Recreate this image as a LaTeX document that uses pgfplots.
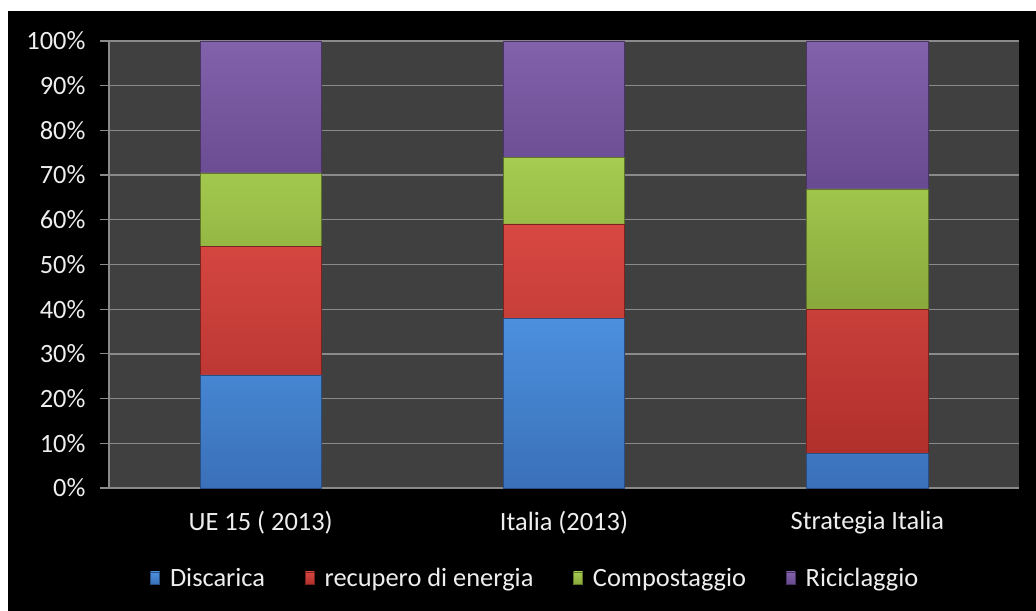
\documentclass[border=0pt]{standalone}
\usepackage{fontspec}
\setmainfont{Carlito}
\usepackage{pgfplots}
\pgfplotsset{compat=1.18}
\definecolor{plotbg}{HTML}{404040}
\definecolor{gridc}{HTML}{8A8A8A}
\definecolor{txt}{HTML}{EEEEEE}
\definecolor{blueT}{HTML}{4C90DE}
\definecolor{blueB}{HTML}{3A70B8}
\definecolor{redT}{HTML}{D84842}
\definecolor{redB}{HTML}{B0302C}
\definecolor{greenT}{HTML}{A6CC50}
\definecolor{greenB}{HTML}{88A83C}
\definecolor{purpT}{HTML}{8262AA}
\definecolor{purpB}{HTML}{684A90}
\begin{document}
\begin{tikzpicture}[x=1bp,y=1bp]
\path[use as bounding box] (0,0) rectangle (1036,611);
\fill[white] (0,0) rectangle (1036,611);
\fill[black] (8,0) rectangle (1036,600);
\begin{axis}[
  at={(109bp,123bp)}, anchor=south west,
  scale only axis, width=910bp, height=447bp,
  ybar stacked, bar width=0.4,
  xmin=-0.5, xmax=2.5, ymin=0, ymax=100,
  axis background/.style={fill=plotbg},
  axis lines*=left,
  axis line style={gridc, line width=1.2bp},
  ymajorgrids, grid style={gridc, line width=1.3bp},
  ytick={0,10,...,100},
  yticklabel={\pgfmathprintnumber{\tick}\%},
  yticklabel style={xshift=-11bp},
  xtick={0,1,2},
  xticklabels={UE 15 ( 2013), Italia (2013), Strategia Italia},
  x tick style={draw=none},
  extra x ticks={-0.5,0.5,1.5,2.5},
  extra x tick labels={},
  extra x tick style={tick style={draw=gridc, line width=1.2bp}, major tick length=7bp, grid=none},
  y tick style={draw=gridc, line width=1.2bp},
  tick align=outside, major tick length=9bp,
  xticklabel style={yshift=-11bp},
  /pgf/number format/assume math mode=true,
  ticklabel style={font=\fontsize{26.5}{31}\selectfont, text=txt},
  legend style={at={(0.4685,-0.2013)}, anchor=center, draw=none, fill=none,
    font=\fontsize{26.5}{31}\selectfont, text=txt,
    legend columns=4, column sep=8bp,
    /tikz/every even column/.append style={column sep=38bp}},
  legend image code/.code={\fill[#1] (0bp,-6bp) rectangle (9bp,6bp);},
  clip=false,
]
\addplot[draw=blueB!70!black, line width=0.6bp, top color=blueT, bottom color=blueB] coordinates {(0,25.3) (1,38.0) (2,7.8)};
\addplot[draw=redB!70!black, line width=0.6bp, top color=redT, bottom color=redB] coordinates {(0,28.8) (1,21.1) (2,32.2)};
\addplot[draw=greenB!70!black, line width=0.6bp, top color=greenT, bottom color=greenB] coordinates {(0,16.4) (1,14.9) (2,26.9)};
\addplot[draw=purpB!70!black, line width=0.6bp, top color=purpT, bottom color=purpB] coordinates {(0,29.5) (1,26.0) (2,33.1)};
\legend{Discarica, recupero di energia, Compostaggio, Riciclaggio}
\end{axis}
\end{tikzpicture}
\end{document}
